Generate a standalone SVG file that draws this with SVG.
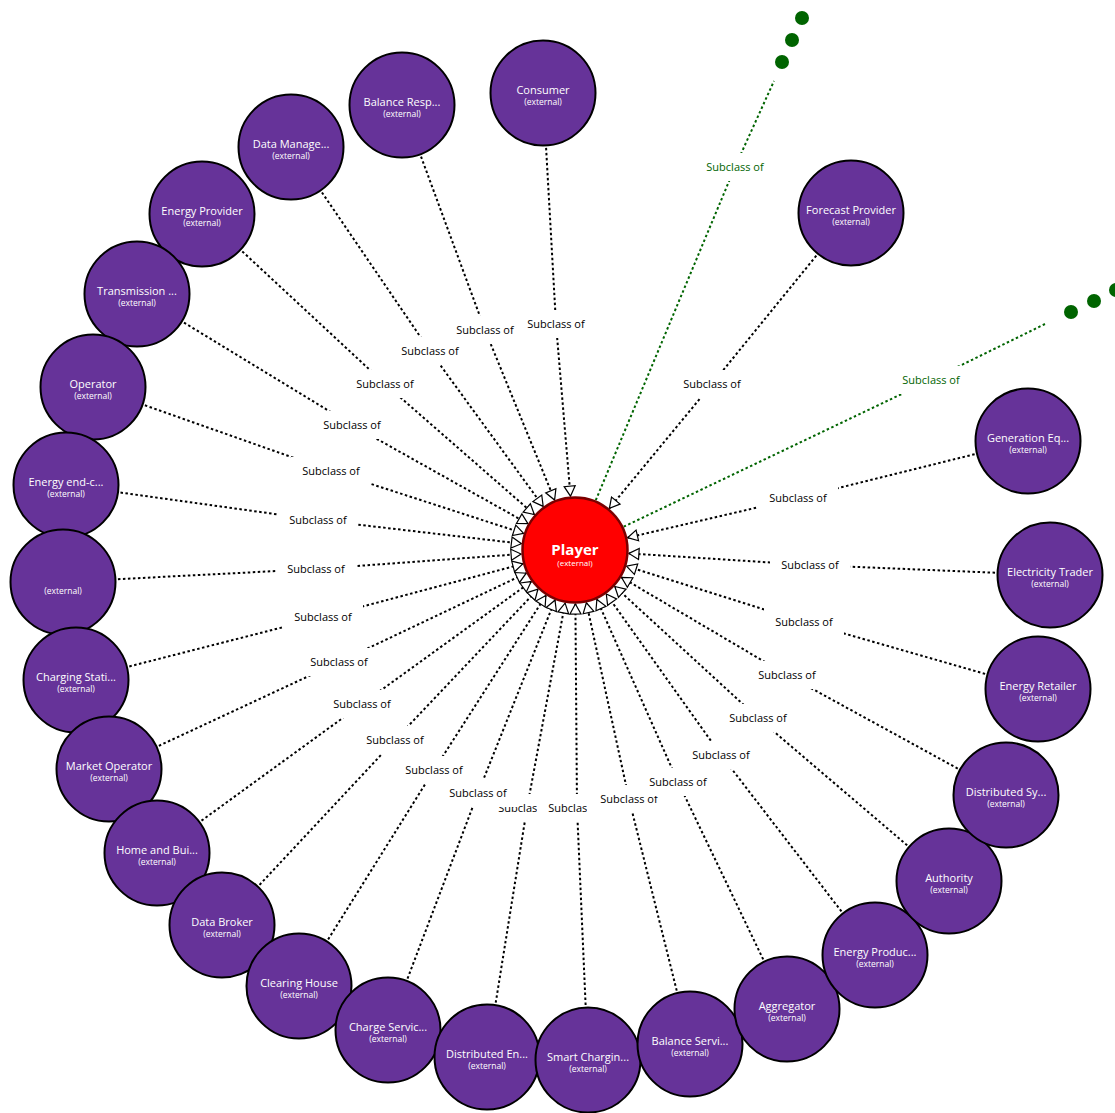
<svg xmlns="http://www.w3.org/2000/svg" width="1115" height="1113" viewBox="0 0 1115 1113">
  <style>
    .link { fill: none; stroke: #000; stroke-width: 2; stroke-dasharray: 2.5 2.5; }
    .link.ext { stroke: #006400; }
    .lbl rect { fill: #fff; }
    .lbl text { font-family: "Open Sans", "Liberation Sans", sans-serif; font-size: 11px; fill: #000; text-anchor: middle; }
    .lbl.ext text { fill: #006400; }
    .dot { fill: #006400; }
    .cls circle { fill: #663399; stroke: #000; stroke-width: 2; }
    .cls text { font-family: "Open Sans", "Liberation Sans", sans-serif; fill: #fff; text-anchor: middle; }
    .cls .t { font-size: 11px; }
    .cls .s { font-size: 8.5px; }
    #player circle { fill: #ff0000; stroke: #7a0000; stroke-width: 2.5; }
    #player .t { font-size: 15px; font-weight: bold; }
    #player .s { font-size: 8px; }
  </style>
  <defs>
    <marker id="arrow" viewBox="-1 -7 12 14" markerWidth="12" markerHeight="14" refX="10" refY="0" orient="auto" markerUnits="userSpaceOnUse">
      <path d="M0,-5.5L10,0L0,5.5Z" fill="#fff" stroke="#000" stroke-width="1.2"/>
    </marker>
  </defs>

  <!-- subclass connectors: node centre -> label -> Player rim -->
  <g id="connectors">
    <path class="link" marker-end="url(#arrow)" d="M543,93L556,324L570.5,496.2"/>
    <path class="link" marker-end="url(#arrow)" d="M402,105L485,330L554.6,500"/>
    <path class="link" marker-end="url(#arrow)" d="M291,147L430,351L543.2,506.4"/>
    <path class="link" marker-end="url(#arrow)" d="M202,214L385,384L534.3,514.5"/>
    <path class="link" marker-end="url(#arrow)" d="M137,294L352,425L527.9,523.6"/>
    <path class="link" marker-end="url(#arrow)" d="M93,387L331,471L523.6,533.4"/>
    <path class="link" marker-end="url(#arrow)" d="M66,485L318,520L521.4,543.7"/>
    <path class="link" marker-end="url(#arrow)" d="M63,582L316,569L521.1,554"/>
    <path class="link" marker-end="url(#arrow)" d="M76,680L323,617L522.8,563.9"/>
    <path class="link" marker-end="url(#arrow)" d="M109,769L339,662L526.2,573.2"/>
    <path class="link" marker-end="url(#arrow)" d="M157,853L362,704L531.2,581.6"/>
    <path class="link" marker-end="url(#arrow)" d="M222,925L395,740L537.9,589.2"/>
    <path class="link" marker-end="url(#arrow)" d="M299,986L434,770L545.9,595.5"/>
    <path class="link" marker-end="url(#arrow)" d="M388,1030L478,793L555,600.2"/>
    <path class="link" marker-end="url(#arrow)" d="M487,1057L527,808L565.1,603.1"/>
    <path class="link" marker-end="url(#arrow)" d="M588,1060L577,808L575.4,604"/>
    <path class="link" marker-end="url(#arrow)" d="M690,1044L629,799L586.4,602.8"/>
    <path class="link" marker-end="url(#arrow)" d="M787,1009L678,782L596.9,599.4"/>
    <path class="link" marker-end="url(#arrow)" d="M875,955L721,755L606.3,594"/>
    <path class="link" marker-end="url(#arrow)" d="M949,881L758,718L614.8,586.5"/>
    <path class="link" marker-end="url(#arrow)" d="M1006,795L787,675L621.5,577.4"/>
    <path class="link" marker-end="url(#arrow)" d="M1038,689L804,622L626.5,566.2"/>
    <path class="link" marker-end="url(#arrow)" d="M1050,575L810,565L628.9,553.4"/>
    <path class="link" marker-end="url(#arrow)" d="M1028,441L798,498L627.6,537.7"/>
    <path class="link" marker-end="url(#arrow)" d="M851,213L712,384L609.4,508.3"/>
    <!-- links to collapsed (hidden) classes -->
    <path class="link ext" d="M595.8,500.2L735,167L774,81"/>
    <path class="link ext" d="M623.7,526.7L931,380L1045,324"/>
    <circle class="dot" cx="782" cy="62" r="7"/>
    <circle class="dot" cx="792" cy="40" r="7"/>
    <circle class="dot" cx="802" cy="18" r="7"/>
    <circle class="dot" cx="1071" cy="312" r="7"/>
    <circle class="dot" cx="1094" cy="301" r="7"/>
    <circle class="dot" cx="1116" cy="290" r="7"/>

    <!-- link labels -->
    <g class="lbl"><rect x="516" y="310" width="80" height="28"/><text x="556" y="328">Subclass of</text></g>
    <g class="lbl"><rect x="445" y="316" width="80" height="28"/><text x="485" y="334">Subclass of</text></g>
    <g class="lbl"><rect x="390" y="337" width="80" height="28"/><text x="430" y="355">Subclass of</text></g>
    <g class="lbl"><rect x="345" y="370" width="80" height="28"/><text x="385" y="388">Subclass of</text></g>
    <g class="lbl"><rect x="312" y="411" width="80" height="28"/><text x="352" y="429">Subclass of</text></g>
    <g class="lbl"><rect x="291" y="457" width="80" height="28"/><text x="331" y="475">Subclass of</text></g>
    <g class="lbl"><rect x="278" y="506" width="80" height="28"/><text x="318" y="524">Subclass of</text></g>
    <g class="lbl"><rect x="276" y="555" width="80" height="28"/><text x="316" y="573">Subclass of</text></g>
    <g class="lbl"><rect x="283" y="603" width="80" height="28"/><text x="323" y="621">Subclass of</text></g>
    <g class="lbl"><rect x="299" y="648" width="80" height="28"/><text x="339" y="666">Subclass of</text></g>
    <g class="lbl"><rect x="322" y="690" width="80" height="28"/><text x="362" y="708">Subclass of</text></g>
    <g class="lbl"><rect x="355" y="726" width="80" height="28"/><text x="395" y="744">Subclass of</text></g>
    <g class="lbl"><rect x="394" y="756" width="80" height="28"/><text x="434" y="774">Subclass of</text></g>
    <g class="lbl"><rect x="487" y="794" width="80" height="28"/><text x="527" y="812">Subclass of</text></g>
    <g class="lbl"><rect x="438" y="779" width="80" height="28"/><text x="478" y="797">Subclass of</text></g>
    <g class="lbl"><rect x="537" y="794" width="80" height="28"/><text x="577" y="812">Subclass of</text></g>
    <g class="lbl"><rect x="587" y="785" width="82" height="28"/><text x="629" y="803">Subclass of</text></g>
    <g class="lbl"><rect x="638" y="768" width="80" height="28"/><text x="678" y="786">Subclass of</text></g>
    <g class="lbl"><rect x="681" y="741" width="80" height="28"/><text x="721" y="759">Subclass of</text></g>
    <g class="lbl"><rect x="718" y="704" width="80" height="28"/><text x="758" y="722">Subclass of</text></g>
    <g class="lbl"><rect x="747" y="661" width="80" height="28"/><text x="787" y="679">Subclass of</text></g>
    <g class="lbl"><rect x="764" y="608" width="80" height="28"/><text x="804" y="626">Subclass of</text></g>
    <g class="lbl"><rect x="770" y="551" width="80" height="28"/><text x="810" y="569">Subclass of</text></g>
    <g class="lbl"><rect x="758" y="484" width="80" height="28"/><text x="798" y="502">Subclass of</text></g>
    <g class="lbl"><rect x="672" y="370" width="80" height="28"/><text x="712" y="388">Subclass of</text></g>
    <g class="lbl ext"><rect x="695" y="153" width="80" height="28"/><text x="735" y="171">Subclass of</text></g>
    <g class="lbl ext"><rect x="891" y="366" width="80" height="28"/><text x="931" y="384">Subclass of</text></g>
  </g>

  <!-- class nodes -->
  <g id="player" class="cls"><circle cx="575" cy="550" r="52.5"/><text class="t" x="575" y="555">Player</text><text class="s" x="575" y="566">(external)</text></g>
  <g id="consumer" class="cls"><circle cx="543" cy="93" r="52.5"/><text class="t" x="543" y="94">Consumer</text><text class="s" x="543" y="105">(external)</text></g>
  <g id="balance-resp" class="cls"><circle cx="402" cy="105" r="52.5"/><text class="t" x="402" y="106">Balance Resp...</text><text class="s" x="402" y="117">(external)</text></g>
  <g id="data-manage" class="cls"><circle cx="291" cy="147" r="52.5"/><text class="t" x="291" y="148">Data Manage...</text><text class="s" x="291" y="159">(external)</text></g>
  <g id="energy-provider" class="cls"><circle cx="202" cy="214" r="52.5"/><text class="t" x="202" y="215">Energy Provider</text><text class="s" x="202" y="226">(external)</text></g>
  <g id="transmission" class="cls"><circle cx="137" cy="294" r="52.5"/><text class="t" x="137" y="295">Transmission ...</text><text class="s" x="137" y="306">(external)</text></g>
  <g id="operator" class="cls"><circle cx="93" cy="387" r="52.5"/><text class="t" x="93" y="388">Operator</text><text class="s" x="93" y="399">(external)</text></g>
  <g id="energy-end" class="cls"><circle cx="66" cy="485" r="52.5"/><text class="t" x="66" y="486">Energy end-c...</text><text class="s" x="66" y="497">(external)</text></g>
  <g id="unnamed" class="cls"><circle cx="63" cy="582" r="52.5"/><text class="s" x="63" y="594">(external)</text></g>
  <g id="charging-stati" class="cls"><circle cx="76" cy="680" r="52.5"/><text class="t" x="76" y="681">Charging Stati...</text><text class="s" x="76" y="692">(external)</text></g>
  <g id="market-operator" class="cls"><circle cx="109" cy="769" r="52.5"/><text class="t" x="109" y="770">Market Operator</text><text class="s" x="109" y="781">(external)</text></g>
  <g id="home-bui" class="cls"><circle cx="157" cy="853" r="52.5"/><text class="t" x="157" y="854">Home and Bui...</text><text class="s" x="157" y="865">(external)</text></g>
  <g id="data-broker" class="cls"><circle cx="222" cy="925" r="52.5"/><text class="t" x="222" y="926">Data Broker</text><text class="s" x="222" y="937">(external)</text></g>
  <g id="clearing-house" class="cls"><circle cx="299" cy="986" r="52.5"/><text class="t" x="299" y="987">Clearing House</text><text class="s" x="299" y="998">(external)</text></g>
  <g id="charge-servic" class="cls"><circle cx="388" cy="1030" r="52.5"/><text class="t" x="388" y="1031">Charge Servic...</text><text class="s" x="388" y="1042">(external)</text></g>
  <g id="distributed-en" class="cls"><circle cx="487" cy="1057" r="52.5"/><text class="t" x="487" y="1058">Distributed En...</text><text class="s" x="487" y="1069">(external)</text></g>
  <g id="smart-chargin" class="cls"><circle cx="588" cy="1060" r="52.5"/><text class="t" x="588" y="1061">Smart Chargin...</text><text class="s" x="588" y="1072">(external)</text></g>
  <g id="balance-servi" class="cls"><circle cx="690" cy="1044" r="52.5"/><text class="t" x="690" y="1045">Balance Servi...</text><text class="s" x="690" y="1056">(external)</text></g>
  <g id="aggregator" class="cls"><circle cx="787" cy="1009" r="52.5"/><text class="t" x="787" y="1010">Aggregator</text><text class="s" x="787" y="1021">(external)</text></g>
  <g id="energy-produc" class="cls"><circle cx="875" cy="955" r="52.5"/><text class="t" x="875" y="956">Energy Produc...</text><text class="s" x="875" y="967">(external)</text></g>
  <g id="authority" class="cls"><circle cx="949" cy="881" r="52.5"/><text class="t" x="949" y="882">Authority</text><text class="s" x="949" y="893">(external)</text></g>
  <g id="distributed-sy" class="cls"><circle cx="1006" cy="795" r="52.5"/><text class="t" x="1006" y="796">Distributed Sy...</text><text class="s" x="1006" y="807">(external)</text></g>
  <g id="energy-retailer" class="cls"><circle cx="1038" cy="689" r="52.5"/><text class="t" x="1038" y="690">Energy Retailer</text><text class="s" x="1038" y="701">(external)</text></g>
  <g id="electricity-trader" class="cls"><circle cx="1050" cy="575" r="52.5"/><text class="t" x="1050" y="576">Electricity Trader</text><text class="s" x="1050" y="587">(external)</text></g>
  <g id="generation-eq" class="cls"><circle cx="1028" cy="441" r="52.5"/><text class="t" x="1028" y="442">Generation Eq...</text><text class="s" x="1028" y="453">(external)</text></g>
  <g id="forecast-provider" class="cls"><circle cx="851" cy="213" r="52.5"/><text class="t" x="851" y="214">Forecast Provider</text><text class="s" x="851" y="225">(external)</text></g>
</svg>
